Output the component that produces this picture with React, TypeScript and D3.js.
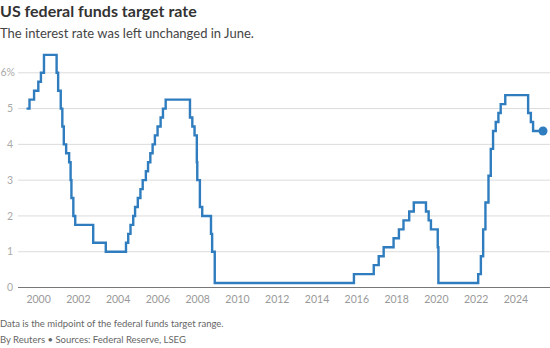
import React from "react";
import * as d3 from "d3";

const changeDates: string[] = [
  "1999-06-30", "1999-08-24", "1999-11-16", "2000-02-02", "2000-03-21", "2000-05-16",
  "2001-01-03", "2001-01-31", "2001-03-20", "2001-04-18", "2001-05-15", "2001-06-27",
  "2001-08-21", "2001-09-17", "2001-10-02", "2001-11-06", "2001-12-11", "2002-11-06",
  "2003-06-25", "2004-06-30", "2004-08-10", "2004-09-21", "2004-11-10", "2004-12-14",
  "2005-02-02", "2005-03-22", "2005-05-03", "2005-06-30", "2005-08-09", "2005-09-20",
  "2005-11-01", "2005-12-13", "2006-01-31", "2006-03-28", "2006-05-10", "2006-06-29",
  "2007-09-18", "2007-10-31", "2007-12-11", "2008-01-22", "2008-01-30", "2008-03-18",
  "2008-04-30", "2008-10-08", "2008-10-29", "2008-12-16", "2015-12-16", "2016-12-14",
  "2017-03-15", "2017-06-14", "2017-12-13", "2018-03-21", "2018-06-13", "2018-09-26",
  "2018-12-19", "2019-07-31", "2019-09-18", "2019-10-30", "2020-03-03", "2020-03-15",
  "2022-03-16", "2022-05-04", "2022-06-15", "2022-07-27", "2022-09-21", "2022-11-02",
  "2022-12-14", "2023-02-01", "2023-03-22", "2023-05-03", "2023-07-26", "2024-09-18",
  "2024-11-07", "2024-12-18", "2025-06-18",
];

const rates: number[] = [
  5.0, 5.25, 5.5, 5.75, 6.0, 6.5,
  6.0, 5.5, 5.0, 4.5, 4.0, 3.75,
  3.5, 3.0, 2.5, 2.0, 1.75, 1.25,
  1.0, 1.25, 1.5, 1.75, 2.0, 2.25,
  2.5, 2.75, 3.0, 3.25, 3.5, 3.75,
  4.0, 4.25, 4.5, 4.75, 5.0, 5.25,
  4.75, 4.5, 4.25, 3.5, 3.0, 2.25,
  2.0, 1.5, 1.0, 0.125, 0.375, 0.625,
  0.875, 1.125, 1.375, 1.625, 1.875, 2.125,
  2.375, 2.125, 1.875, 1.625, 1.125, 0.125,
  0.375, 0.875, 1.625, 2.375, 3.125, 3.875,
  4.375, 4.625, 4.875, 5.125, 5.375, 4.875,
  4.625, 4.375, 4.375,
];

const yTicks: number[] = [0, 1, 2, 3, 4, 5, 6];
const xTickYears: number[] = [2000, 2002, 2004, 2006, 2008, 2010, 2012, 2014, 2016, 2018, 2020, 2022, 2024];

const title = "US federal funds target rate";
const subtitle = "The interest rate was left unchanged in June.";
const note = "Data is the midpoint of the federal funds target range.";
const source = "By Reuters \u2022 Sources: Federal Reserve, LSEG";

const W = 550;
const H = 348;
const FONT = "Lato, 'Noto Sans', sans-serif";
const BLUE = "#2f7dbf";

export default function App() {
  const parse = d3.utcParse("%Y-%m-%d");
  const data = changeDates.map((d, i) => ({ date: parse(d) as Date, v: rates[i] }));

  const x = d3
    .scaleUtc()
    .domain([data[0].date, data[data.length - 1].date])
    .range([26.5, 543]);
  const y = d3.scaleLinear().domain([0, 6]).range([287.5, 72.8]);

  const line = d3
    .line<{ date: Date; v: number }>()
    .x((d) => x(d.date))
    .y((d) => y(d.v))
    .curve(d3.curveStepAfter);

  const last = data[data.length - 1];
  const gridLeft = 18;

  return (
    <svg
      width={W}
      height={H}
      style={{ position: "absolute", left: 0, top: 0, background: "#fff" }}
      fontFamily={FONT}
    >
      <text x={0} y={17} fontSize={16} fontWeight={700} fill="#333">
        {title}
      </text>
      <text x={0} y={37.5} fontSize={13} fill="#444">
        {subtitle}
      </text>

      {yTicks.map((t) =>
        t === 0 ? null : (
          <line key={"g" + t} x1={gridLeft} x2={W} y1={y(t)} y2={y(t)} stroke="#dcdcdc" strokeWidth={1} />
        )
      )}
      {yTicks.map((t) => (
        <text
          key={"yl" + t}
          x={t === 6 ? 15 : 13}
          y={y(t)}
          dy="0.35em"
          textAnchor="end"
          fontSize={10.5}
          fill="#aaa"
        >
          {t === 6 ? "6%" : String(t)}
        </text>
      ))}

      <path d={line(data) ?? ""} fill="none" stroke={BLUE} strokeWidth={2.4} strokeLinejoin="miter" />

      <line x1={gridLeft} x2={W} y1={y(0)} y2={y(0)} stroke="#777" strokeWidth={1.2} />

      {xTickYears.map((yr) => (
        <text
          key={"xl" + yr}
          x={x(new Date(Date.UTC(yr, 0, 1))) + 2}
          y={303}
          textAnchor="middle"
          fontSize={10.5}
          fill="#999"
        >
          {yr}
        </text>
      ))}

      <circle cx={x(last.date)} cy={y(last.v)} r={4.5} fill={BLUE} />

      <text x={0} y={327} fontSize={9.5} fill="#666">
        {note}
      </text>
      <text x={0} y={343} fontSize={9.5} fill="#666">
        {source}
      </text>
    </svg>
  );
}
